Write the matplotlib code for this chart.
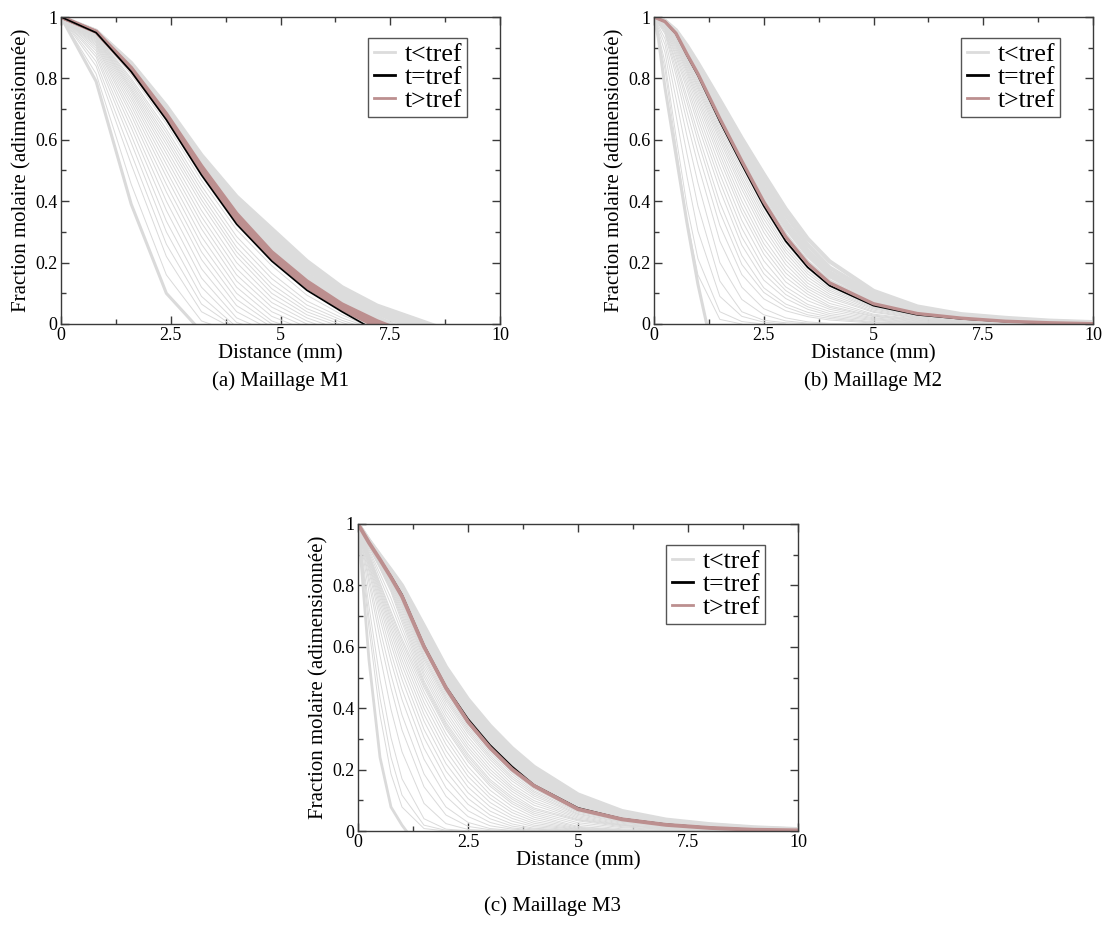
import matplotlib
matplotlib.use("Agg")
import matplotlib.pyplot as plt
from matplotlib.ticker import FixedLocator
from matplotlib.lines import Line2D

plt.rcParams['font.family'] = ['Liberation Serif', 'DejaVu Serif']

# ---------------- common axis data ----------------
x_ticks = [0, 2.5, 5, 7.5, 10]
x_tick_labels = ['0', '2.5', '5', '7.5', '10']
x_minor = [1.25, 3.75, 6.25, 8.75]
y_ticks = [0, 0.2, 0.4, 0.6, 0.8, 1.0]
y_tick_labels = ['0', '0.2', '0.4', '0.6', '0.8', '1']
y_minor = [0.1, 0.3, 0.5, 0.7, 0.9]
legend_labels = ['t<tref', 't=tref', 't>tref']
captions = ['(a) Maillage M1', '(b) Maillage M2', '(c) Maillage M3']
xlabel = 'Distance (mm)'
ylabel = 'Fraction molaire (adimensionnée)'

# ---------------- panel (a) : mesh M1 ----------------
xa = [0.0, 0.8, 1.6, 2.4, 3.2, 4.0, 4.8, 5.6, 6.4, 7.2, 8.0, 8.8, 9.6]
a_first = [1.0, 0.79, 0.39, 0.10, -0.025]
a_gray_below = [
    [1, .815, .455, .16, .01, -.03],
    [1, .84, .52, .22, .04, -.02],
    [1, .855, .555, .26, .065, -.015],
    [1, .87, .59, .30, .09, -.01],
    [1, .88, .615, .335, .12, .005, -.03],
    [1, .89, .64, .37, .15, .02, -.03],
    [1, .898, .66, .40, .18, .04, -.02],
    [1, .905, .68, .43, .21, .06, -.01],
    [1, .91, .695, .455, .235, .08, 0.0, -.03],
    [1, .915, .71, .48, .26, .10, .01, -.03],
    [1, .919, .723, .50, .285, .12, .025, -.02],
    [1, .923, .735, .52, .31, .14, .04, -.01],
    [1, .927, .745, .538, .33, .16, .055, 0.0, -.03],
    [1, .93, .755, .555, .35, .18, .07, .01, -.03],
    [1, .933, .763, .57, .37, .20, .085, .02, -.02],
    [1, .935, .77, .585, .39, .22, .10, .03, -.01],
    [1, .938, .778, .598, .405, .235, .115, .04, -.003, -.03],
    [1, .94, .785, .61, .42, .25, .13, .05, .005, -.03],
    [1, .942, .793, .623, .435, .268, .148, .062, .012, -.025],
    [1, .944, .80, .635, .45, .285, .165, .075, .02, -.02],
    [1, .947, .812, .652, .468, .307, .19, .094, .03, -.02],
]
a_gray_above = [
    [1, .950, .829, .676, .501, .348, .231, .134, .060, -.003, -.063],
    [1, .951, .833, .683, .511, .361, .247, .148, .072, .010, -.046],
    [1, .952, .837, .690, .521, .375, .263, .162, .084, .022, -.030],
    [1, .953, .842, .697, .531, .388, .279, .177, .096, .035, -.013, -.06],
    [1, .954, .844, .701, .537, .397, .289, .186, .104, .043, -.002, -.046],
    [1, .954, .847, .706, .544, .406, .300, .196, .112, .052, .009, -.033],
    [1, .955, .850, .710, .550, .415, .310, .205, .120, .060, .020, -.020],
]
a_black = [1, .949, .822, .665, .485, .325, .205, .11, .04, -.024, -.09]
a_brown = [
    [1, .951, .826, .672, .495, .337, .215, .12, .048, -.01, -.06],
    [1, .952, .830, .678, .505, .348, .225, .13, .056, 0.0, -.05],
    [1, .953, .835, .685, .515, .36, .235, .14, .065, .01, -.035],
]

# ---------------- panel (b) : mesh M2 ----------------
xb = [0, .25, .5, .75, 1, 1.5, 2, 2.5, 3, 3.5, 4, 5, 6, 7, 8, 9, 10]
b_first_x = [0, .1, .25, .5, .75, 1, 1.2]
b_first = [1, .93, .77, .55, .33, .13, 0]
b_gray_below = [
    [1, .83, .58, .34, .16, .015, 0],
    [1, .853, .613, .385, .213, .04, .008, 0],
    [1, .885, .681, .481, .303, .09, .025, .006, 0],
    [1, .910, .735, .555, .385, .14, .04, .012, .004, .001, 0],
    [1, .929, .777, .613, .460, .20, .08, .03, .01, .003, .001, 0],
    [1, .945, .81, .66, .52, .27, .12, .05, .02, .007, .002, 0],
    [1, .951, .829, .693, .561, .321, .161, .082, .043, .024, .013, .003, 0],
    [1, .956, .846, .722, .597, .365, .194, .103, .055, .030, .018, .005, .001, 0],
    [1, .959, .857, .741, .621, .396, .223, .118, .065, .038, .023, .007, .001, 0],
    [1, .963, .870, .764, .649, .437, .257, .143, .083, .048, .028, .011, .003, .001, 0],
    [1, .966, .879, .779, .669, .464, .284, .164, .096, .056, .034, .014, .004, .001, 0],
    [1, .969, .888, .793, .688, .489, .312, .182, .109, .064, .041, .017, .006, .001, 0],
    [1, .971, .896, .806, .705, .513, .338, .206, .121, .076, .048, .020, .008, .002, 0],
    [1, .973, .903, .817, .720, .535, .363, .228, .137, .087, .054, .024, .010, .003, .001, 0],
    [1, .975, .909, .825, .733, .552, .381, .245, .152, .097, .059, .026, .012, .004, .001, 0],
    [1, .976, .914, .832, .744, .568, .401, .262, .166, .106, .067, .029, .014, .005, .002, .001, 0],
    [1, .978, .919, .839, .755, .583, .421, .279, .179, .115, .076, .032, .016, .007, .002, .001, 0],
    [1, .979, .924, .846, .765, .597, .439, .299, .194, .123, .084, .038, .018, .008, .003, .001, 0],
    [1, .980, .928, .851, .773, .608, .453, .314, .207, .133, .090, .041, .020, .009, .003, .001, 0],
    [1, .981, .931, .856, .780, .619, .467, .328, .220, .143, .097, .045, .022, .011, .004, .001, 0],
    [1, .982, .934, .860, .788, .628, .479, .342, .232, .153, .104, .049, .024, .012, .005, .002, .001],
    [1, .983, .938, .865, .794, .638, .492, .355, .243, .163, .110, .052, .026, .014, .006, .002, .001],
    [1, .984, .941, .869, .801, .647, .503, .367, .254, .172, .116, .055, .028, .015, .007, .002, .001],
    [1, .985, .944, .873, .807, .656, .515, .379, .265, .181, .122, .058, .029, .016, .008, .003, .001],
]
b_gray_above = [
    [1, .985, .947, .881, .818, .673, .536, .405, .290, .202, .139, .069, .035, .020, .010, .004, .002],
    [1, .986, .950, .889, .827, .689, .557, .429, .315, .224, .156, .080, .042, .023, .013, .006, .002],
    [1, .986, .952, .894, .834, .701, .571, .446, .333, .239, .169, .087, .046, .025, .015, .007, .003],
    [1, .987, .955, .901, .842, .715, .589, .468, .355, .258, .184, .098, .052, .028, .017, .009, .004],
    [1, .987, .957, .907, .850, .729, .605, .488, .375, .278, .204, .108, .057, .032, .020, .011, .006],
]
b_black = [1, .985, .945, .875, .81, .66, .52, .385, .27, .185, .125, .06, .03, .017, .008, .003, .001]
b_brown = [1, .985, .947, .879, .815, .669, .531, .398, .284, .197, .134, .066, .034, .019, .009, .004, .001]

# ---------------- panel (c) : mesh M3 ----------------
xc = [0, .25, .5, .75, 1, 1.5, 2, 2.5, 3, 3.5, 4, 5, 6, 7, 8, 9, 10]
c_first_x = [0, .25, .5, .75, 1, 1.1]
c_first = [1, .556, .24, .078, .019, 0]
c_gray_below = [
    [1, .659, .378, .186, .078, .008, 0],
    [1, .694, .433, .240, .117, .019, .002, 0],
    [1, .731, .494, .304, .170, .040, .006, .001, 0],
    [1, .777, .572, .396, .258, .090, .024, .005, .001, 0],
    [1, .808, .626, .466, .329, .144, .052, .015, .004, .001, 0],
    [1, .826, .659, .509, .378, .186, .078, .028, .008, .002, 0],
    [1, .844, .691, .553, .428, .234, .113, .047, .017, .006, .002, 0],
    [1, .855, .713, .581, .462, .270, .141, .066, .028, .010, .003, 0],
    [1, .865, .731, .608, .494, .304, .170, .087, .040, .016, .006, .001, 0],
    [1, .871, .746, .627, .518, .331, .195, .106, .052, .023, .009, .001, 0],
    [1, .878, .759, .645, .540, .358, .219, .125, .065, .032, .014, .002, 0],
    [1, .884, .770, .660, .558, .380, .242, .143, .079, .041, .019, .004, 0],
    [1, .889, .779, .673, .575, .400, .262, .161, .093, .050, .025, .005, .001, 0],
    [1, .894, .787, .686, .590, .419, .282, .178, .107, .060, .031, .007, .001, 0],
    [1, .897, .795, .696, .604, .437, .300, .194, .119, .069, .038, .009, .002, 0],
    [1, .900, .803, .707, .617, .453, .316, .210, .133, .080, .045, .012, .003, 0],
    [1, .904, .808, .716, .627, .467, .332, .226, .146, .089, .052, .015, .004, .001, 0],
    [1, .911, .823, .737, .644, .475, .339, .234, .153, .096, .058, .021, .007, .002, .001, 0],
    [1, .917, .839, .758, .662, .482, .347, .243, .161, .104, .064, .027, .011, .004, .001, 0],
    [1, .924, .854, .779, .679, .490, .354, .251, .168, .111, .070, .033, .014, .005, .002, .001, 0],
    [1, .926, .858, .785, .690, .503, .365, .263, .180, .120, .075, .036, .017, .007, .002, .001, 0],
    [1, .928, .861, .790, .700, .514, .378, .273, .191, .129, .084, .038, .019, .008, .003, .001, .001],
    [1, .929, .864, .796, .709, .526, .390, .284, .201, .137, .092, .042, .020, .009, .003, .001, 0],
    [1, .931, .867, .801, .718, .537, .402, .296, .212, .144, .099, .046, .022, .010, .004, .002, .001],
    [1, .933, .870, .806, .726, .548, .413, .307, .223, .153, .107, .050, .025, .012, .005, .002, .001],
    [1, .934, .873, .810, .734, .558, .423, .318, .233, .163, .114, .054, .028, .013, .006, .002, .001],
    [1, .935, .875, .813, .740, .566, .431, .326, .241, .171, .120, .057, .030, .015, .007, .003, .001],
    [1, .936, .877, .817, .746, .573, .438, .333, .248, .178, .126, .061, .032, .016, .007, .003, .001],
    [1, .937, .879, .819, .751, .581, .446, .340, .256, .186, .131, .064, .034, .018, .008, .003, .001],
    [1, .938, .880, .823, .757, .596, .453, .347, .263, .192, .137, .067, .036, .019, .009, .004, .002],
    [1, .939, .882, .825, .762, .594, .459, .354, .269, .199, .142, .070, .037, .020, .010, .004, .002],
    [1, .940, .884, .828, .767, .603, .468, .364, .278, .208, .148, .074, .039, .021, .011, .005, .002],
]
c_gray_above = [
    [1, .941, .887, .833, .775, .615, .480, .375, .290, .220, .159, .082, .044, .024, .013, .006, .003],
    [1, .943, .890, .838, .782, .629, .495, .390, .304, .233, .173, .092, .049, .028, .015, .008, .003],
    [1, .945, .893, .842, .788, .643, .508, .404, .318, .246, .186, .101, .054, .031, .018, .009, .004],
    [1, .946, .896, .846, .794, .656, .521, .417, .330, .259, .198, .110, .060, .034, .020, .010, .005],
    [1, .947, .898, .850, .800, .668, .534, .429, .343, .270, .209, .119, .065, .037, .022, .012, .006],
]
c_black = [1, .94, .885, .83, .77, .605, .47, .365, .28, .21, .15, .075, .04, .022, .011, .005, .002]
c_brown = [1, .939, .884, .826, .764, .600, .466, .356, .271, .201, .147, .071, .038, .020, .010, .004, .002]

# ---------------- styles ----------------
GRAY_THIN = '#dadada'
GRAY_BAND = '#dcdcdc'
BROWN = '#bc8f8f'
SPINE = '#3a3a3a'

fig = plt.figure(figsize=(11.04, 9.32), dpi=100)
W, H = 1104.0, 932.0
axA = fig.add_axes([61 / W, 1 - 324 / H, 439 / W, 307 / H])
axB = fig.add_axes([654 / W, 1 - 324 / H, 439 / W, 307 / H])
axC = fig.add_axes([358 / W, 1 - 831 / H, 440 / W, 307 / H])


def style(ax):
    ax.set_xlim(0, 10)
    ax.set_ylim(0, 1)
    ax.xaxis.set_major_locator(FixedLocator(x_ticks))
    ax.set_xticklabels(x_tick_labels)
    ax.xaxis.set_minor_locator(FixedLocator(x_minor))
    ax.yaxis.set_major_locator(FixedLocator(y_ticks))
    ax.set_yticklabels(y_tick_labels)
    ax.yaxis.set_minor_locator(FixedLocator(y_minor))
    ax.tick_params(which='both', direction='in', top=True, right=True,
                   labelsize=13, pad=2.5, color=SPINE, width=1)
    ax.tick_params(which='major', length=6)
    ax.tick_params(which='minor', length=3.8)
    for s in ax.spines.values():
        s.set_color(SPINE)
        s.set_linewidth(1)
    ax.set_xlabel(xlabel, fontsize=15, labelpad=0)
    ax.set_ylabel(ylabel, fontsize=15, labelpad=3)
    handles = [Line2D([], [], color=GRAY_BAND, lw=2),
               Line2D([], [], color='black', lw=2),
               Line2D([], [], color=BROWN, lw=2)]
    leg = ax.legend(handles, legend_labels, loc='upper right',
                    bbox_to_anchor=(0.925, 0.931), fontsize=18.5,
                    frameon=True, fancybox=False, framealpha=1,
                    edgecolor='#555555', borderpad=0.2, labelspacing=0.0,
                    handlelength=0.85, handletextpad=0.35, borderaxespad=0)
    leg.get_frame().set_linewidth(1)


# panel (a)
for r in a_gray_below:
    axA.plot(xa[:len(r)], r, color=GRAY_THIN, lw=0.7)
for r in a_gray_above:
    axA.plot(xa[:len(r)], r, color=GRAY_BAND, lw=3.0)
axA.plot(xa[:len(a_first)], a_first, color=GRAY_THIN, lw=2.2)
for r in a_brown:
    axA.plot(xa[:len(r)], r, color=BROWN, lw=2.6)
axA.plot(xa[:len(a_black)], a_black, color='black', lw=1.2)
style(axA)

# panel (b)
for r in b_gray_below:
    axB.plot(xb[:len(r)], r, color=GRAY_THIN, lw=0.7)
for r in b_gray_above:
    axB.plot(xb[:len(r)], r, color=GRAY_BAND, lw=3.0)
axB.plot(b_first_x, b_first, color=GRAY_THIN, lw=2.2)
axB.plot(xb, b_black, color='black', lw=1.3)
axB.plot(xb, b_brown, color=BROWN, lw=2.4)
style(axB)

# panel (c)
for r in c_gray_below:
    axC.plot(xc[:len(r)], r, color=GRAY_THIN, lw=0.7)
for r in c_gray_above:
    axC.plot(xc[:len(r)], r, color=GRAY_BAND, lw=3.0)
axC.plot(c_first_x, c_first, color=GRAY_THIN, lw=2.0)
axC.plot(xc, c_black, color='black', lw=1.3)
axC.plot(xc, c_brown, color=BROWN, lw=2.8)
style(axC)

fig.text(281 / W, 1 - 381 / H, captions[0], ha='center', va='center', fontsize=15)
fig.text(873 / W, 1 - 381 / H, captions[1], ha='center', va='center', fontsize=15)
fig.text(552 / W, 1 - 906 / H, captions[2], ha='center', va='center', fontsize=15)

fig.savefig('out.png', dpi=100)
